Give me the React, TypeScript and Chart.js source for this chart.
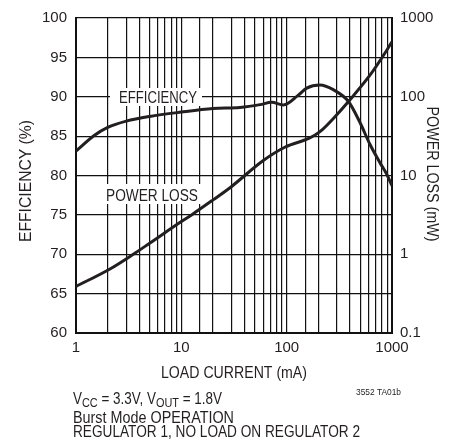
import React, { useEffect, useRef } from "react";
import { Chart, registerables } from "chart.js";

Chart.register(...registerables);

// ---- Data ----
const effCurrent = [1, 1.5, 2, 3, 5, 10, 20, 36, 56, 72, 93, 129, 155, 207, 277, 386, 498, 620, 771, 892, 1000];
const effValues = [83.1, 85.1, 86.1, 86.9, 87.5, 88.05, 88.5, 88.64, 89.0, 89.3, 88.95, 90.2, 91.1, 91.5, 90.9, 89.4, 86.7, 83.9, 81.6, 80.15, 78.7];

const plCurrent = [1, 2.1, 3.5, 5, 10, 12.5, 20, 29, 60, 97, 166, 207, 299, 386, 620, 892, 1000];
const plValues = [0.39, 0.65, 1.0, 1.38, 2.6, 3.16, 4.9, 7.0, 15.5, 23, 30, 36, 59, 87, 189, 390, 500];

const xMajorTicks = [1, 10, 100, 1000];
const rightMajorTicks = [0.1, 1, 10, 100, 1000];

const FONT = "'Liberation Sans', Arial, sans-serif";
const INK = "#231f20";

const isDecade = (v: number) => {
  const l = Math.log10(v);
  return Math.abs(l - Math.round(l)) < 1e-6;
};

// draw text condensed horizontally to a target width (emulates a condensed face)
function condensedText(ctx: any, text: string, x: number, y: number, size: number, width: number, align: "left" | "center") {
  ctx.save();
  ctx.font = `${size}px ${FONT}`;
  ctx.textBaseline = "alphabetic";
  ctx.textAlign = "left";
  const w = ctx.measureText(text).width;
  const s = width / w;
  const x0 = align === "center" ? x - width / 2 : x;
  ctx.translate(x0, y);
  ctx.scale(s, 1);
  ctx.fillText(text, 0, 0);
  ctx.restore();
}

const textPlugin = {
  id: "textPlugin",
  beforeDatasetsDraw(chart: any) {
    const ctx = chart.ctx;
    ctx.save();
    ctx.fillStyle = "#fff";
    ctx.fillRect(110, 88, 92, 18);
    ctx.fillRect(100, 184, 104, 20);
    ctx.fillStyle = INK;
    condensedText(ctx, "EFFICIENCY", 158, 102.7, 16, 78, "center");
    condensedText(ctx, "POWER LOSS", 152, 200.7, 16, 92, "center");
    ctx.restore();
  },
  afterDraw(chart: any) {
    const ctx = chart.ctx;
    const area = chart.chartArea;
    ctx.save();
    ctx.fillStyle = INK;
    // left title
    ctx.save();
    ctx.translate(30.7, 181);
    ctx.rotate(-Math.PI / 2);
    condensedText(ctx, "EFFICIENCY (%)", 0, 0, 16, 122, "center");
    ctx.restore();
    // right title
    ctx.save();
    ctx.translate(427, 174);
    ctx.rotate(Math.PI / 2);
    condensedText(ctx, "POWER LOSS (mW)", 0, 0, 16, 135, "center");
    ctx.restore();
    // x title
    condensedText(ctx, "LOAD CURRENT (mA)", (area.left + area.right) / 2, 378.3, 16, 146, "center");

    // footer
    const sc = 0.84;
    const parts: [string, boolean][] = [
      ["V", false],
      ["CC", true],
      [" = 3.3V, V", false],
      ["OUT", true],
      [" = 1.8V", false],
    ];
    let x = 73;
    for (const [s, isSub] of parts) {
      const size = isSub ? 13 : 16;
      ctx.font = `${size}px ${FONT}`;
      const w = ctx.measureText(s).width * sc;
      condensedText(ctx, s, x, isSub ? 407 : 404, size, w, "left");
      x += w;
    }
    condensedText(ctx, "Burst Mode OPERATION", 73, 422.5, 16, 161, "left");
    condensedText(ctx, "REGULATOR 1, NO LOAD ON REGULATOR 2", 73, 437, 16, 287, "left");

    condensedText(ctx, "3552 TA01b", 356, 395, 9.5, 45, "left");
    ctx.restore();
  },
};

export default function App() {
  const canvasRef = useRef<HTMLCanvasElement | null>(null);

  useEffect(() => {
    if (!canvasRef.current) return;
    const tickFont = { family: FONT, size: 15 };
    const chart = new Chart(canvasRef.current, {
      type: "line",
      data: {
        datasets: [
          {
            label: "Efficiency",
            data: effCurrent.map((c, i) => ({ x: c, y: effValues[i] })),
            yAxisID: "y",
            borderColor: INK,
            borderWidth: 3,
            pointRadius: 0,
            cubicInterpolationMode: "monotone",
            fill: false,
          },
          {
            label: "Power loss",
            data: plCurrent.map((c, i) => ({ x: c, y: plValues[i] })),
            yAxisID: "y2",
            borderColor: INK,
            borderWidth: 3,
            pointRadius: 0,
            cubicInterpolationMode: "monotone",
            fill: false,
          },
        ],
      },
      options: {
        animation: false,
        responsive: false,
        maintainAspectRatio: false,
        layout: { padding: { top: 16, left: 0, right: 0, bottom: 0 } },
        plugins: {
          legend: { display: false },
          tooltip: { enabled: false },
        },
        scales: {
          x: {
            type: "logarithmic",
            min: 1,
            max: 1000,
            position: "bottom",
            grid: { color: "#111", lineWidth: 1.2, drawTicks: false },
            border: { display: true, color: "#111", width: 2 },
            ticks: {
              autoSkip: false,
              maxRotation: 0,
              padding: 6,
              color: INK,
              font: tickFont,
              callback: (v: any) => (xMajorTicks.some((m) => Math.abs(m - v) < 1e-6) ? String(Math.round(v)) : ""),
            },
            afterFit: (s: any) => {
              s.height = 110;
            },
          },
          y: {
            type: "linear",
            min: 60,
            max: 100,
            position: "left",
            grid: { color: "#111", lineWidth: 1.2, drawTicks: false },
            border: { display: true, color: "#111", width: 2 },
            ticks: { stepSize: 5, padding: 9, color: INK, font: tickFont },
            afterFit: (s: any) => {
              s.width = 76;
            },
          },
          y2: {
            type: "logarithmic",
            min: 0.1,
            max: 1000,
            position: "right",
            grid: { display: false, drawTicks: false },
            border: { display: true, color: "#111", width: 2 },
            ticks: {
              autoSkip: false,
              padding: 8,
              color: INK,
              font: tickFont,
              callback: (v: any) => {
                if (!isDecade(v)) return "";
                const r = rightMajorTicks.find((m) => Math.abs(Math.log10(m) - Math.log10(v)) < 1e-6);
                return r === undefined ? "" : String(r);
              },
            },
            afterFit: (s: any) => {
              s.width = 64;
            },
          },
        },
      } as any,
      plugins: [textPlugin],
    });
    return () => chart.destroy();
  }, []);

  return (
    <div style={{ position: "fixed", left: 0, top: 0, width: 456, height: 443, background: "#fff" }}>
      <canvas ref={canvasRef} width={456} height={443} style={{ width: 456, height: 443 }} />
    </div>
  );
}
